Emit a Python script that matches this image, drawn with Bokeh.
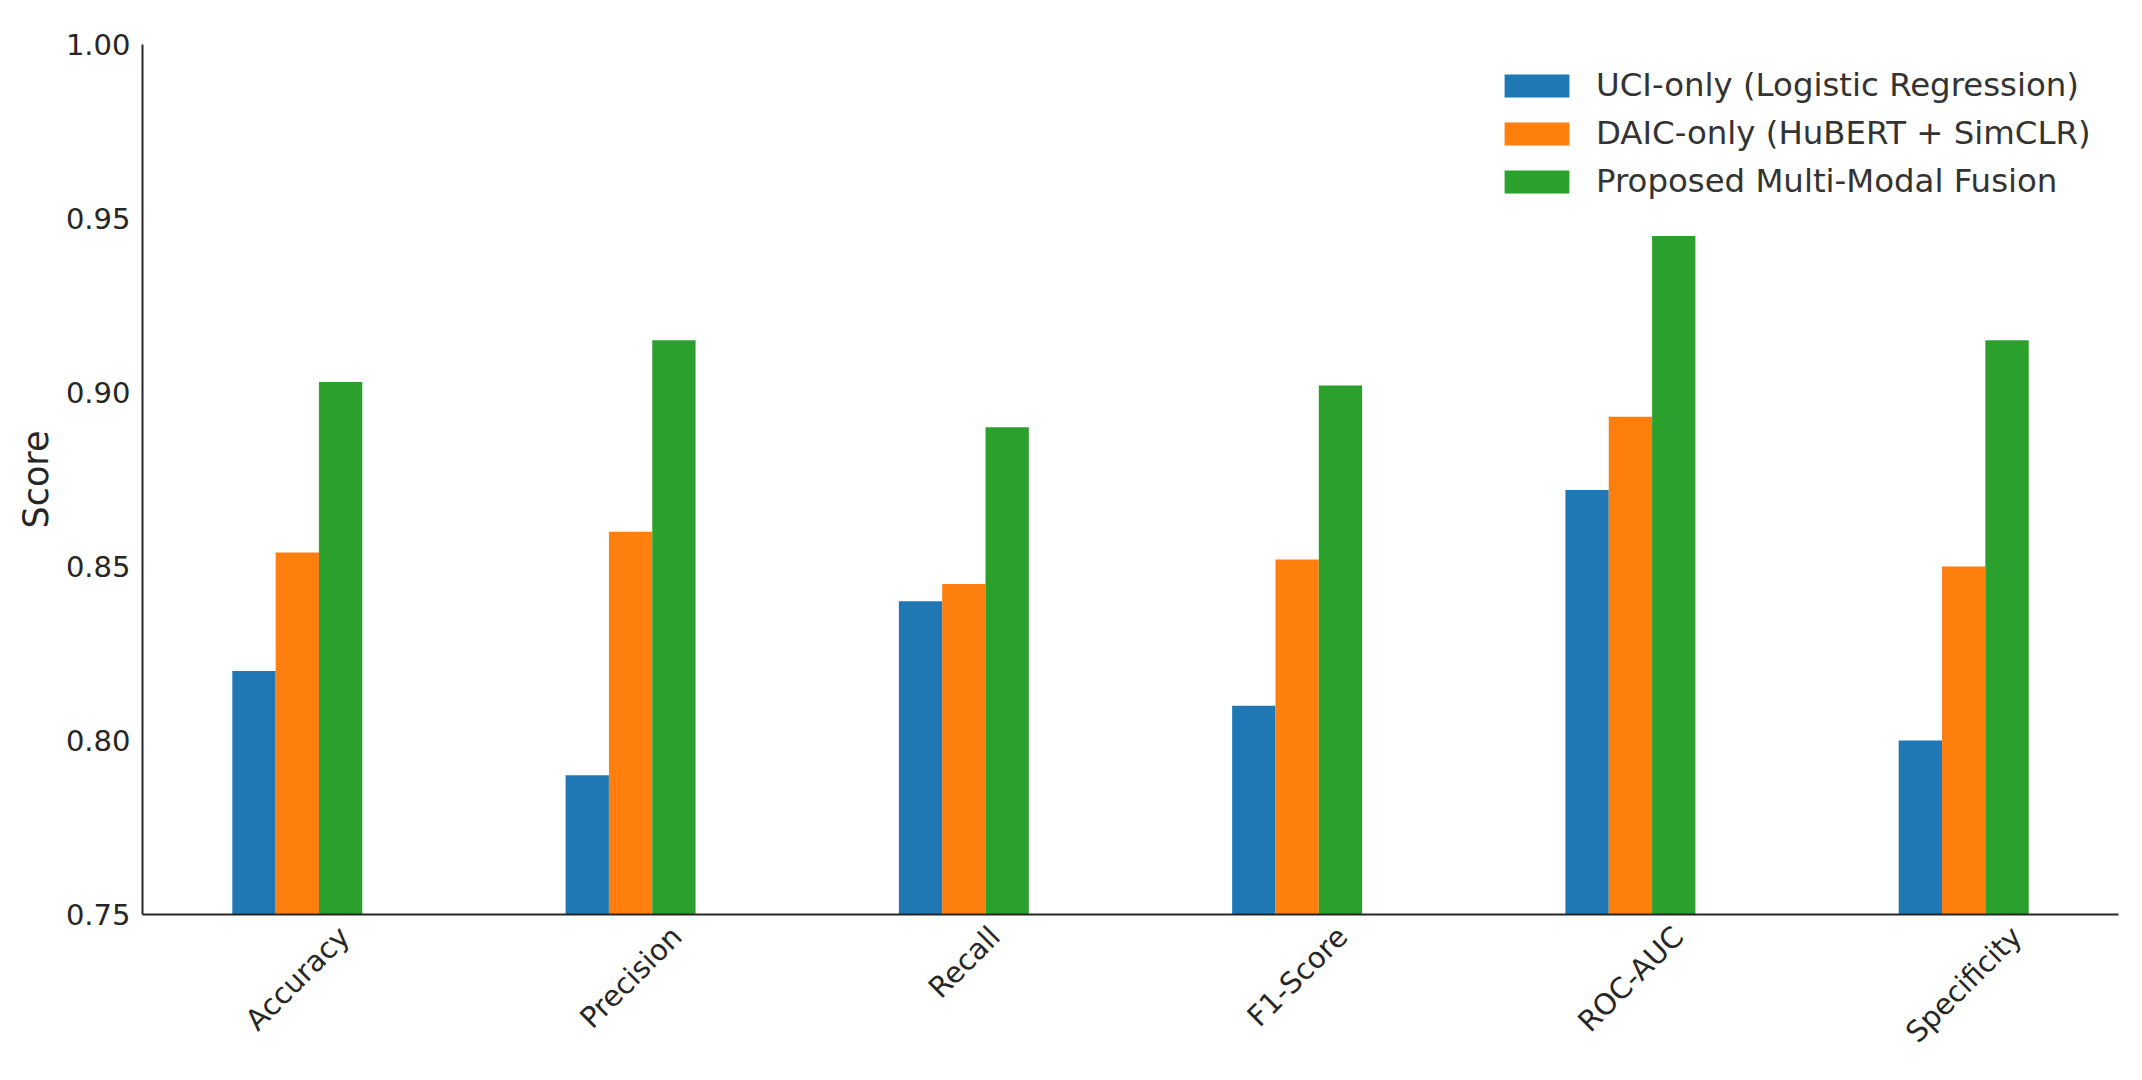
import numpy as np
from bokeh.plotting import figure
from bokeh.models import (ColumnDataSource, Range1d, FixedTicker, PrintfTickFormatter,
                          LinearAxis, Legend, LegendItem)
from bokeh.embed import file_html
from bokeh.resources import INLINE

# ---- data ----
categories = ["Accuracy", "Precision", "Recall", "F1-Score", "ROC-AUC", "Specificity"]
series_names = ["UCI-only (Logistic Regression)", "DAIC-only (HuBERT + SimCLR)",
                "Proposed Multi-Modal Fusion"]
uci_only = [0.820, 0.790, 0.840, 0.810, 0.872, 0.800]
daic_only = [0.854, 0.860, 0.845, 0.852, 0.893, 0.850]
fusion = [0.903, 0.915, 0.890, 0.902, 0.945, 0.915]
y_ticks = [0.75, 0.80, 0.85, 0.90, 0.95, 1.00]

colors = ["#1f77b4", "#ff7f0e", "#2ca02c"]
FONT = "DejaVu Sans"
TICK_PX = 29
bar_w = 0.13
X0, X1 = -0.4645, 5.4645
FRAME_L, FRAME_R = 142, 2118

p = figure(width=2134, height=1072, output_backend="svg", toolbar_location=None,
           x_range=Range1d(X0, X1), y_range=Range1d(y_ticks[0], y_ticks[-1]),
           x_axis_type=None, y_axis_type=None,
           min_border_left=FRAME_L, min_border_right=2134 - FRAME_R,
           min_border_top=44, min_border_bottom=1072 - 914)
p.outline_line_color = None
p.grid.visible = False
p.background_fill_color = "white"
p.border_fill_color = "white"

idx = np.arange(len(categories))
renderers = []
for k, (vals, col) in enumerate(zip([uci_only, daic_only, fusion], colors)):
    src = ColumnDataSource(dict(x=idx + (k - 1) * bar_w, top=vals))
    r = p.vbar(x="x", top="top", bottom=y_ticks[0], width=bar_w, source=src,
               fill_color=col, line_color=None)
    renderers.append(r)

# y axis
yax = LinearAxis(ticker=FixedTicker(ticks=y_ticks),
                 formatter=PrintfTickFormatter(format="%.2f"),
                 axis_label="Score")
yax.axis_line_color = "#262626"
yax.axis_line_width = 2
yax.major_tick_line_color = None
yax.minor_tick_line_color = None
yax.major_tick_out = 0
yax.major_tick_in = 0
yax.major_label_standoff = 12
yax.major_label_text_font = FONT
yax.major_label_text_font_size = f"{TICK_PX}px"
yax.major_label_text_color = "#262626"
yax.axis_label_text_font = FONT
yax.axis_label_text_font_size = "35px"
yax.axis_label_text_font_style = "normal"
yax.axis_label_text_color = "#262626"
yax.axis_label_standoff = 7
p.add_layout(yax, "left")

# x axis: rotated labels; Bokeh right-aligns angled labels at the tick, so each
# tick is nudged right by half the label's projected width to centre it under its group
W = {'A': .684, 'C': .698, 'F': .575, 'O': .787, 'P': .603, 'R': .695, 'S': .635, 'U': .732,
     'a': .613, 'c': .550, 'e': .615, 'f': .352, 'i': .278, 'l': .278, 'n': .634, 'o': .612,
     'p': .635, 'r': .411, 's': .521, 't': .392, 'u': .634, 'y': .592, '1': .636, '-': .361}
px_per_unit = (FRAME_R - FRAME_L) / (X1 - X0)
tick_pos = []
for i, c in enumerate(categories):
    w = sum(W.get(ch, 0.6) for ch in c) * TICK_PX
    tick_pos.append(round(float(i + w * 0.35355 / px_per_unit), 4))
xax = LinearAxis(ticker=FixedTicker(ticks=tick_pos),
                 major_label_overrides={t: c for t, c in zip(tick_pos, categories)})
xax.axis_line_color = "#262626"
xax.axis_line_width = 2
xax.major_tick_line_color = None
xax.minor_tick_line_color = None
xax.major_tick_out = 0
xax.major_tick_in = 0
xax.major_label_orientation = np.pi / 4
xax.major_label_standoff = 17
xax.major_label_text_font = FONT
xax.major_label_text_font_size = f"{TICK_PX}px"
xax.major_label_text_color = "#262626"
p.add_layout(xax, "below")

legend = Legend(items=[LegendItem(label=n, renderers=[r]) for n, r in zip(series_names, renderers)],
                location=(1354, 714), orientation="vertical")
legend.border_line_color = None
legend.background_fill_alpha = 0
legend.label_text_font = FONT
legend.label_text_font_size = "32.4px"
legend.label_text_color = "#333333"
legend.glyph_width = 81
legend.glyph_height = 29
legend.label_standoff = 19
legend.spacing = 10
legend.padding = 0
legend.margin = 0
p.add_layout(legend)

open("out.html", "w").write(file_html(p, INLINE))
